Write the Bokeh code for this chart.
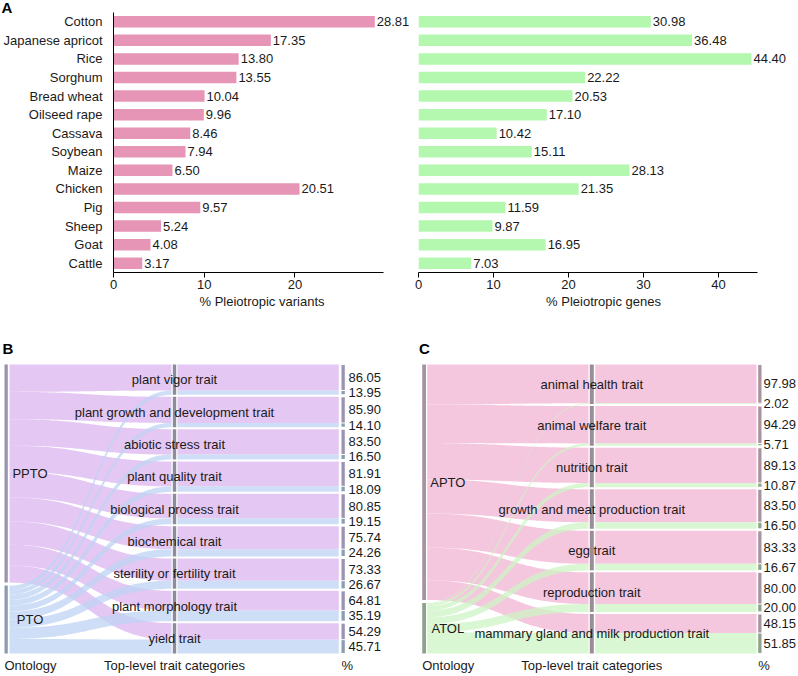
import numpy as np
from bokeh.plotting import figure
from bokeh.models import ColumnDataSource, Range1d, FactorRange, FixedTicker, LabelSet, Title
from bokeh.layouts import row, column
from bokeh.embed import file_html
from bokeh.resources import INLINE
from bokeh.core.properties import value

FONT = "Liberation Sans"
INK = "#1a1a1a"

# ---------------- data ----------------
species = ["Cotton", "Japanese apricot", "Rice", "Sorghum", "Bread wheat", "Oilseed rape",
           "Cassava", "Soybean", "Maize", "Chicken", "Pig", "Sheep", "Goat", "Cattle"]
pct_variants = [28.81, 17.35, 13.80, 13.55, 10.04, 9.96, 8.46, 7.94, 6.50, 20.51, 9.57, 5.24, 4.08, 3.17]
pct_genes = [30.98, 36.48, 44.40, 22.22, 20.53, 17.10, 10.42, 15.11, 28.13, 21.35, 11.59, 9.87, 16.95, 7.03]
variant_ticks = [0, 10, 20]
gene_ticks = [0, 10, 20, 30, 40]

plant_traits = ["plant vigor trait", "plant growth and development trait", "abiotic stress trait",
                "plant quality trait", "biological process trait", "biochemical trait",
                "sterility or fertility trait", "plant morphology trait", "yield trait"]
ppto_pct = [86.05, 85.90, 83.50, 81.91, 80.85, 75.74, 73.33, 64.81, 54.29]
pto_pct = [13.95, 14.10, 16.50, 18.09, 19.15, 24.26, 26.67, 35.19, 45.71]
plant_ontologies = ["PPTO", "PTO"]

animal_traits = ["animal health trait", "animal welfare trait", "nutrition trait",
                 "growth and meat production trait", "egg trait", "reproduction trait",
                 "mammary gland and milk production trait"]
apto_pct = [97.98, 94.29, 89.13, 83.50, 83.33, 80.00, 48.15]
atol_pct = [2.02, 5.71, 10.87, 16.50, 16.67, 20.00, 51.85]
animal_ontologies = ["APTO", "ATOL"]

axis_titles = ["Ontology", "Top-level trait categories", "%"]

ROW1_H = 325
ROW2_H = 349


# ---------------- panel A ----------------
def bar_panel(values, color, axis_max, view_max, ticks, xlabel, width, b_left, b_right,
              show_names, tag=None):
    src = ColumnDataSource(dict(name=species, val=values, lab=[f"{v:.2f}" for v in values]))
    p = figure(width=width, height=ROW1_H, y_range=FactorRange(factors=species[::-1]),
               x_range=Range1d(0, view_max), output_backend="svg", toolbar_location=None,
               min_border_left=b_left, min_border_right=b_right, min_border_top=12,
               min_border_bottom=ROW1_H - 12 - 260)
    p.hbar(y="name", left=0, right="val", height=0.62, source=src,
           fill_color=color, line_color=None)
    p.add_layout(LabelSet(x="val", y="name", text="lab", source=src, x_offset=2,
                          text_baseline="middle", text_align="left",
                          text_font=value(FONT), text_font_size="13px", text_color=INK))
    p.xaxis.bounds = (0, axis_max)
    p.xaxis.ticker = FixedTicker(ticks=ticks)
    p.xaxis.axis_label = xlabel
    p.xaxis.axis_label_text_font = FONT
    p.xaxis.axis_label_text_font_size = "13px"
    p.xaxis.axis_label_text_font_style = "normal"
    p.xaxis.axis_label_text_color = INK
    p.xaxis.axis_label_standoff = 2
    p.xaxis.major_label_text_font = FONT
    p.xaxis.major_label_text_font_size = "13px"
    p.xaxis.major_label_text_color = INK
    p.xaxis.major_label_standoff = 2
    p.xaxis.major_tick_in = 0
    p.xaxis.major_tick_out = 5
    p.xaxis.minor_tick_line_color = None
    p.xaxis.axis_line_color = "black"
    p.xaxis.major_tick_line_color = "black"
    p.xgrid.visible = False
    p.ygrid.visible = False
    p.outline_line_color = None
    if show_names:
        p.yaxis.major_tick_line_color = None
        p.yaxis.minor_tick_line_color = None
        p.yaxis.major_label_standoff = 5
        p.yaxis.major_label_text_font = FONT
        p.yaxis.major_label_text_font_size = "13px"
        p.yaxis.major_label_text_color = INK
        p.yaxis.axis_line_color = "black"
    else:
        p.yaxis.visible = False
    if tag:
        p.add_layout(Title(text=tag, align="left", vertical_align="middle", offset=-b_left,
                           standoff=-8, text_font=FONT, text_font_style="bold",
                           text_font_size="15px", text_color="black"), "above")
    return p


pA1 = bar_panel(pct_variants, "#e795b6", 29.75, 298 / 9.1, variant_ticks,
                "% Pleiotropic variants", 412, 112, 2, True, tag="A")
pA2 = bar_panel(pct_genes, "#b4f8af", 45.24, 370 / 7.5, gene_ticks,
                "% Pleiotropic genes", 384, 6, 8, False)


# ---------------- panels B and C (parallel sets) ----------------
def curve(x0, x1, y0, y1, t):
    x = x0 + (x1 - x0) * (1.5 * t - 1.5 * t ** 2 + t ** 3)
    y = y0 + (y1 - y0) * (3 * t ** 2 - 2 * t ** 3)
    return x, y


def sankey_panel(tag, cats, top_pct, bot_pct, ontos, rib_cols, bar_cols, mid_col, X, width):
    H = ROW2_H
    ytop, ybot = 39.0, 328.0
    span = ybot - ytop
    p = figure(width=width, height=H, x_range=Range1d(0, width), y_range=Range1d(H, 0),
               output_backend="svg", toolbar_location=None, min_border=0)
    p.xaxis.visible = False
    p.yaxis.visible = False
    p.xgrid.visible = False
    p.ygrid.visible = False
    p.outline_line_color = None

    n = len(cats)
    tot = [a + b for a, b in zip(top_pct, bot_pct)]
    total = sum(tot)
    gm, gl = 2.0, 3.0
    km = (span - (n - 1) * gm) / total
    kl = (span - gl) / total

    # middle axis
    cat_top, cat_split, cat_bot = [], [], []
    y = ytop
    for a, b in zip(top_pct, bot_pct):
        cat_top.append(y)
        cat_split.append(y + a * km)
        cat_bot.append(y + (a + b) * km)
        y += (a + b) * km + gm

    # left axis
    sumA = sum(top_pct)
    blockA = (ytop, ytop + sumA * kl)
    blockB = (ytop + sumA * kl + gl, ybot)

    t = np.linspace(0, 1, 60)
    ribbons = {0: ([], []), 1: ([], [])}
    qL, qR, qT, qB, qC = [], [], [], [], []
    for oi, (pcts, block) in enumerate([(top_pct, blockA), (bot_pct, blockB)]):
        cum = block[0]
        for i in range(n):
            l0 = cum
            l1 = cum + pcts[i] * kl
            cum = l1
            if oi == 0:
                m0, m1 = cat_top[i], cat_split[i]
            else:
                m0, m1 = cat_split[i], cat_bot[i]
            xa, ya = curve(X["l_start"], X["l_end"], l0, m0, t)
            xb, yb = curve(X["l_start"], X["l_end"], l1, m1, t)
            ribbons[oi][0].append(list(xa) + list(xb[::-1]))
            ribbons[oi][1].append(list(ya) + list(yb[::-1]))
            qL.append(X["r_start"]); qR.append(X["r_end"])
            qT.append(m0); qB.append(m1); qC.append(rib_cols[oi])

    for oi in range(2):
        p.patches(xs=ribbons[oi][0], ys=ribbons[oi][1],
                  fill_color=rib_cols[oi], fill_alpha=0.75, line_color=None)
    p.quad(left=qL, right=qR, top=qT, bottom=qB, fill_color=qC, fill_alpha=0.75, line_color=None)

    # left bars
    p.quad(left=[X["lb0"]] * 2, right=[X["lb1"]] * 2, top=[blockA[0], blockB[0]],
           bottom=[blockA[1], blockB[1]], fill_color=bar_cols, line_color=None)
    # middle bars
    p.quad(left=[X["mb0"]] * n, right=[X["mb1"]] * n, top=cat_top, bottom=cat_bot,
           fill_color=mid_col, line_color=None)
    # right bars
    inset = 0.5
    rt, rb, rc = [], [], []
    for i in range(n):
        rt += [cat_top[i] + inset, cat_split[i] + inset]
        rb += [cat_split[i] - inset, cat_bot[i] - inset]
        rc += [bar_cols[0], bar_cols[1]]
    p.quad(left=[X["rb0"]] * len(rt), right=[X["rb1"]] * len(rt), top=rt, bottom=rb,
           fill_color=rc, line_color=None)

    tf = value(FONT)
    mid_x = (X["mb0"] + X["mb1"]) / 2
    src = ColumnDataSource(dict(x=[mid_x] * n, y=[(a + b) / 2 for a, b in zip(cat_top, cat_bot)], text=cats))
    p.text(x="x", y="y", text="text", source=src, text_align="center", text_baseline="middle",
           text_font=tf, text_font_size="13px", text_color=INK)
    vy, vt = [], []
    for i in range(n):
        vy += [(cat_top[i] + cat_split[i]) / 2, (cat_split[i] + cat_bot[i]) / 2]
        vt += [f"{top_pct[i]:.2f}", f"{bot_pct[i]:.2f}"]
    src = ColumnDataSource(dict(x=[X["val"]] * len(vy), y=vy, text=vt))
    p.text(x="x", y="y", text="text", source=src, text_align="left", text_baseline="middle",
           text_font=tf, text_font_size="13px", text_color=INK)
    src = ColumnDataSource(dict(x=[X["onto"]] * 2, y=[sum(blockA) / 2, sum(blockB) / 2], text=ontos))
    p.text(x="x", y="y", text="text", source=src, text_align="center", text_baseline="middle",
           text_font=tf, text_font_size="13px", text_color=INK)
    src = ColumnDataSource(dict(x=[X["lb0"], mid_x, X["rb0"]], y=[340] * 3, text=axis_titles,
                                align=["left", "center", "left"]))
    p.text(x="x", y="y", text="text", source=src, text_align="align", text_baseline="middle",
           text_font=tf, text_font_size="13px", text_color=INK)
    p.text(x=[X["tag"]], y=[23], text=[tag], text_align="left", text_baseline="middle",
           text_font=tf, text_font_size="15px", text_font_style="bold", text_color="black")
    return p


XB = dict(tag=2.0, lb0=4.0, lb1=7.3, l_start=9.0, l_end=171.0, mb0=172.3, mb1=175.7,
          r_start=177.0, r_end=338.3, rb0=341.0, rb1=344.3, val=348.0, onto=29.5)
XC = dict(tag=18.5, lb0=21.7, lb1=25.5, l_start=26.7, l_end=188.0, mb0=189.3, mb1=193.3,
          r_start=194.7, r_end=356.0, rb0=357.7, rb1=361.0, val=363.0, onto=47.3)

pB = sankey_panel("B", plant_traits, ppto_pct, pto_pct, plant_ontologies,
                  ["#dbb5ef", "#bfd3f4"], ["#9a94b0", "#8c9db2"], "#8e8b9c", XB, 400)
pC = sankey_panel("C", animal_traits, apto_pct, atol_pct, animal_ontologies,
                  ["#f2b4d4", "#ccf4c3"], ["#a8949f", "#8fa28d"], "#9b8d97", XC, 396)

layout = column(row(pA1, pA2), row(pB, pC))
open("out.html", "w").write(file_html(layout, INLINE))
